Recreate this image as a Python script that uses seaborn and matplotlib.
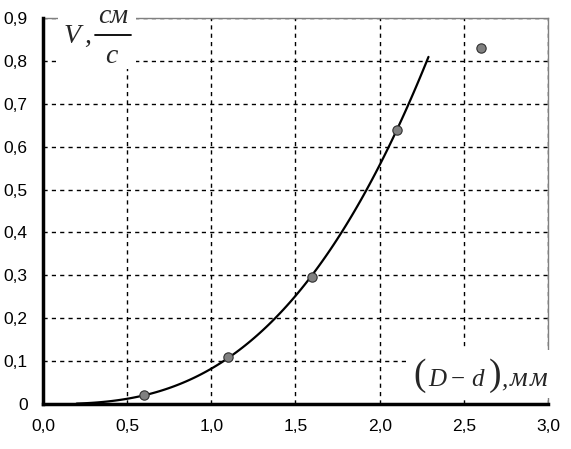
import seaborn as sns
import matplotlib.pyplot as plt
import matplotlib.patches as mpatches
from matplotlib.lines import Line2D
import pandas as pd
import numpy as np

# measured points  (D - d), mm  vs  V, cm/s
gap_mm = [0.6, 1.1, 1.6, 2.1, 2.6]
speed = [0.02, 0.11, 0.295, 0.64, 0.83]

x_ticks = [0.0, 0.5, 1.0, 1.5, 2.0, 2.5, 3.0]
x_labels = ['0,0', '0,5', '1,0', '1,5', '2,0', '2,5', '3,0']
y_ticks = [0.0, 0.1, 0.2, 0.3, 0.4, 0.5, 0.6, 0.7, 0.8, 0.9]
y_labels = ['0', '0,1', '0,2', '0,3', '0,4', '0,5', '0,6', '0,7', '0,8', '0,9']

sns.set_style('white')
plt.rcParams['font.family'] = ['Liberation Sans', 'DejaVu Sans']

df = pd.DataFrame({'x': gap_mm, 'v': speed})

# power trend line (fitted on the first four points)
b, lna = np.polyfit(np.log(gap_mm[:4]), np.log(speed[:4]), 1)
xf = np.linspace(0.2, 2.29, 120)
trend = pd.DataFrame({'x': xf, 'v': np.exp(lna) * xf ** b})

W, H = 571, 449
fig = plt.figure(figsize=(W / 100, H / 100), dpi=100)
ax = fig.add_axes([43 / W, 45 / H, 505 / W, 386 / H])

sns.lineplot(data=trend, x='x', y='v', ax=ax, color='black', linewidth=1.6, zorder=3)
sns.scatterplot(data=df, x='x', y='v', ax=ax, s=45, color='#808080',
                edgecolor='#303030', linewidth=0.8, zorder=4)

ax.set_xlim(0, 3.0)
ax.set_ylim(0, 0.9)
ax.set_xticks(x_ticks)
ax.set_xticklabels(x_labels)
ax.set_yticks(y_ticks)
ax.set_yticklabels(y_labels)
ax.tick_params(axis='both', labelsize=12.5, direction='out', length=5, width=2,
               colors='black', pad=6)
ax.grid(True, color='black', linestyle=(0, (3, 3)), linewidth=1)
ax.set_xlabel('')
ax.set_ylabel('')

for s in ['left', 'bottom']:
    ax.spines[s].set_color('black')
    ax.spines[s].set_linewidth(2.5)
    ax.spines[s].set_zorder(6)
for s in ['top', 'right']:
    ax.spines[s].set_color('#808080')
    ax.spines[s].set_linewidth(1)

# white boxes under the axis titles
ax.add_patch(mpatches.Rectangle((0.09, 0.78), 0.46, 0.2, facecolor='white',
                                edgecolor='none', clip_on=False, zorder=5))
ax.add_patch(mpatches.Rectangle((2.16, 0.014), 0.9, 0.112, facecolor='white',
                                edgecolor='none', clip_on=False, zorder=5))


def px(x, y):
    return x / W, 1 - y / H


serif_it = dict(family='Liberation Serif', style='italic', zorder=7)
serif = dict(family='Liberation Serif', zorder=7)

# y title: V, cm/s as a fraction
fig.text(*px(64, 43), 'V', fontsize=20, ha='left', va='baseline', **serif_it)
fig.text(*px(84, 43), ',', fontsize=20, ha='left', va='baseline', **serif_it)
fig.text(*px(113, 23), 'см', fontsize=20, ha='center', va='baseline', **serif_it)
fig.text(*px(111, 63), 'с', fontsize=20, ha='center', va='baseline', **serif_it)
fig.add_artist(Line2D([95 / W, 131 / W], [1 - 35 / H, 1 - 35 / H], color='black',
                      linewidth=1.3, zorder=7))

# x title: (D - d), mm with tall brackets
fig.text(*px(420, 376), '(', fontsize=27, ha='center', va='center', **serif)
fig.text(*px(437, 386), 'D', fontsize=18, ha='center', va='baseline', **serif_it)
fig.text(*px(458, 386), '\u2212', fontsize=18, ha='center', va='baseline', **serif)
fig.text(*px(477, 386), 'd', fontsize=18, ha='center', va='baseline', **serif_it)
fig.text(*px(495, 376), ')', fontsize=27, ha='center', va='center', **serif)
fig.text(*px(504, 386), ',', fontsize=18, ha='center', va='baseline', **serif_it)
fig.text(*px(519, 386), 'м', fontsize=20, ha='center', va='baseline', **serif_it)
fig.text(*px(538.5, 386), 'м', fontsize=20, ha='center', va='baseline', **serif_it)

fig.savefig('out.png', dpi=100)
